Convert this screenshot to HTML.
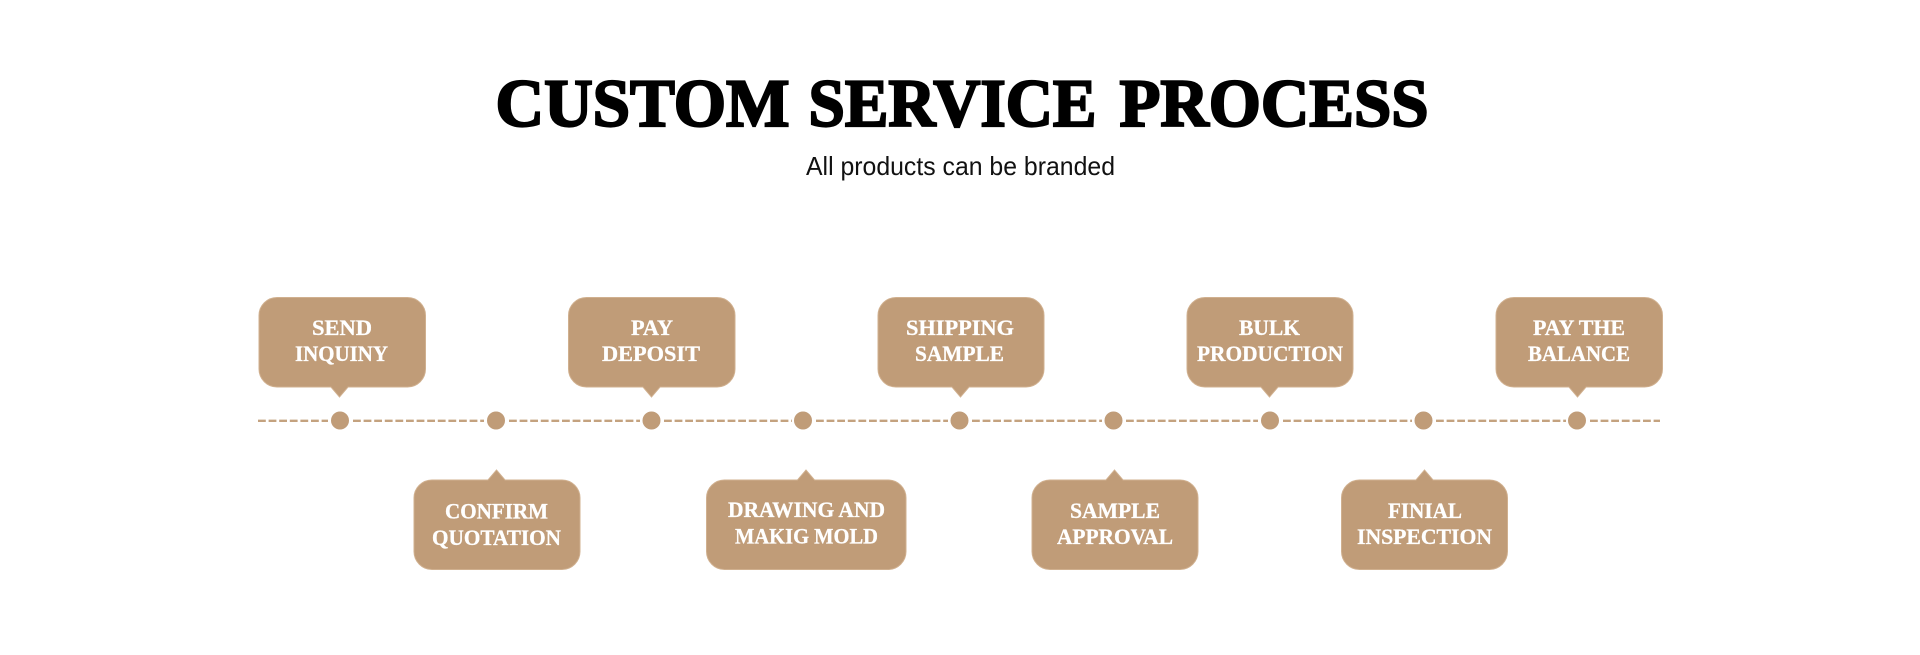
<!DOCTYPE html>
<html lang="en">
<head>
<meta charset="utf-8">
<title>Custom Service Process</title>
<style>
html,body{margin:0;padding:0;background:#fff;width:1920px;height:655px;overflow:hidden}
svg{display:block}
.t{font-family:"Liberation Serif",serif;font-weight:700;font-size:68px;fill:#000;stroke:#000;stroke-width:2.2px}
.l{font-family:"Liberation Serif",serif;font-weight:700;font-size:22px;fill:#fff;stroke:#fff;stroke-width:.3px;text-anchor:start}
</style>
</head>
<body>
<svg width="1920" height="655" viewBox="0 0 1920 655" xmlns="http://www.w3.org/2000/svg">
<rect width="1920" height="655" fill="#fff"/>
<text class="t" x="495.500" y="126" textLength="294" lengthAdjust="spacingAndGlyphs">CUSTOM</text>
<text class="t" x="808.500" y="126" textLength="288" lengthAdjust="spacingAndGlyphs">SERVICE</text>
<text class="t" x="1119.500" y="126" textLength="309" lengthAdjust="spacingAndGlyphs">PROCESS</text>
<text x="806" y="175" font-family="'Liberation Sans',sans-serif" font-size="26" fill="#111" textLength="309" lengthAdjust="spacingAndGlyphs">All products can be branded</text>

<g fill="#c09c78" stroke="#d0b08f" stroke-width="1">
<path d="M277 297.500H407.500A18 18 0 0 1 425.500 315.500V369A18 18 0 0 1 407.500 387H348L339.500 397L331 387H277A18 18 0 0 1 259 369V315.500A18 18 0 0 1 277 297.500Z"/>
<path d="M586.500 297.500H717A18 18 0 0 1 735 315.500V369A18 18 0 0 1 717 387H660L651.500 397L643 387H586.500A18 18 0 0 1 568.500 369V315.500A18 18 0 0 1 586.500 297.500Z"/>
<path d="M896 297.500H1026A18 18 0 0 1 1044 315.500V369A18 18 0 0 1 1026 387H969L960.500 397L952 387H896A18 18 0 0 1 878 369V315.500A18 18 0 0 1 896 297.500Z"/>
<path d="M1205 297.500H1335A18 18 0 0 1 1353 315.500V369A18 18 0 0 1 1335 387H1278L1269.500 397L1261 387H1205A18 18 0 0 1 1187 369V315.500A18 18 0 0 1 1205 297.500Z"/>
<path d="M1514 297.500H1644.500A18 18 0 0 1 1662.500 315.500V369A18 18 0 0 1 1644.500 387H1586L1577.500 397L1569 387H1514A18 18 0 0 1 1496 369V315.500A18 18 0 0 1 1514 297.500Z"/>

<path d="M432 480H488L496.500 470L505 480H562A18 18 0 0 1 580 498V551.500A18 18 0 0 1 562 569.500H432A18 18 0 0 1 414 551.500V498A18 18 0 0 1 432 480Z"/>
<path d="M724.500 480H797.500L806 470L814.500 480H888A18 18 0 0 1 906 498V551.500A18 18 0 0 1 888 569.500H724.500A18 18 0 0 1 706.500 551.500V498A18 18 0 0 1 724.500 480Z"/>
<path d="M1050 480H1106L1114.500 470L1123 480H1180A18 18 0 0 1 1198 498V551.500A18 18 0 0 1 1180 569.500H1050A18 18 0 0 1 1032 551.500V498A18 18 0 0 1 1050 480Z"/>
<path d="M1359.500 480H1416L1424.500 470L1433 480H1489.500A18 18 0 0 1 1507.500 498V551.500A18 18 0 0 1 1489.500 569.500H1359.500A18 18 0 0 1 1341.500 551.500V498A18 18 0 0 1 1359.500 480Z"/>
</g>

<g stroke="#c4a27f" stroke-width="2.400" stroke-dasharray="7.800 2.800" fill="none">
<line x1="258" y1="420.800" x2="328" y2="420.800"/>
<line x1="353" y1="420.800" x2="484" y2="420.800"/>
<line x1="509" y1="420.800" x2="640" y2="420.800"/>
<line x1="664" y1="420.800" x2="792" y2="420.800"/>
<line x1="816" y1="420.800" x2="948" y2="420.800"/>
<line x1="972" y1="420.800" x2="1102" y2="420.800"/>
<line x1="1126" y1="420.800" x2="1258" y2="420.800"/>
<line x1="1283" y1="420.800" x2="1412" y2="420.800"/>
<line x1="1436" y1="420.800" x2="1566" y2="420.800"/>
<line x1="1590" y1="420.800" x2="1660" y2="420.800"/>
</g>
<g fill="#c09c78">
<circle cx="340" cy="420.500" r="9"/>
<circle cx="496" cy="420.500" r="9"/>
<circle cx="651.500" cy="420.500" r="9"/>
<circle cx="803" cy="420.500" r="9"/>
<circle cx="959.500" cy="420.500" r="9"/>
<circle cx="1113.500" cy="420.500" r="9"/>
<circle cx="1270" cy="420.500" r="9"/>
<circle cx="1423.500" cy="420.500" r="9"/>
<circle cx="1577" cy="420.500" r="9"/>
</g>

<g class="labels">
<text class="l" x="312" y="335" textLength="60" lengthAdjust="spacingAndGlyphs">SEND</text>
<text class="l" x="295" y="361" textLength="93" lengthAdjust="spacingAndGlyphs">INQUINY</text>
<text class="l" x="631" y="335" textLength="42" lengthAdjust="spacingAndGlyphs">PAY</text>
<text class="l" x="602" y="361" textLength="98" lengthAdjust="spacingAndGlyphs">DEPOSIT</text>
<text class="l" x="906" y="335" textLength="108" lengthAdjust="spacingAndGlyphs">SHIPPING</text>
<text class="l" x="915" y="361" textLength="89" lengthAdjust="spacingAndGlyphs">SAMPLE</text>
<text class="l" x="1239" y="335" textLength="61" lengthAdjust="spacingAndGlyphs">BULK</text>
<text class="l" x="1197" y="361" textLength="146" lengthAdjust="spacingAndGlyphs">PRODUCTION</text>
<text class="l" x="1533" y="335" textLength="92" lengthAdjust="spacingAndGlyphs">PAY THE</text>
<text class="l" x="1528" y="361" textLength="102" lengthAdjust="spacingAndGlyphs">BALANCE</text>
<text class="l" x="445" y="518.500" textLength="103" lengthAdjust="spacingAndGlyphs">CONFIRM</text>
<text class="l" x="432" y="545" textLength="129" lengthAdjust="spacingAndGlyphs">QUOTATION</text>
<text class="l" x="728" y="517" textLength="157" lengthAdjust="spacingAndGlyphs">DRAWING AND</text>
<text class="l" x="735" y="543.500" textLength="143" lengthAdjust="spacingAndGlyphs">MAKIG MOLD</text>
<text class="l" x="1070" y="518" textLength="90" lengthAdjust="spacingAndGlyphs">SAMPLE</text>
<text class="l" x="1057" y="544" textLength="116" lengthAdjust="spacingAndGlyphs">APPROVAL</text>
<text class="l" x="1388" y="518" textLength="74" lengthAdjust="spacingAndGlyphs">FINIAL</text>
<text class="l" x="1357" y="544" textLength="135" lengthAdjust="spacingAndGlyphs">INSPECTION</text>
</g>
</svg>
</body>
</html>
